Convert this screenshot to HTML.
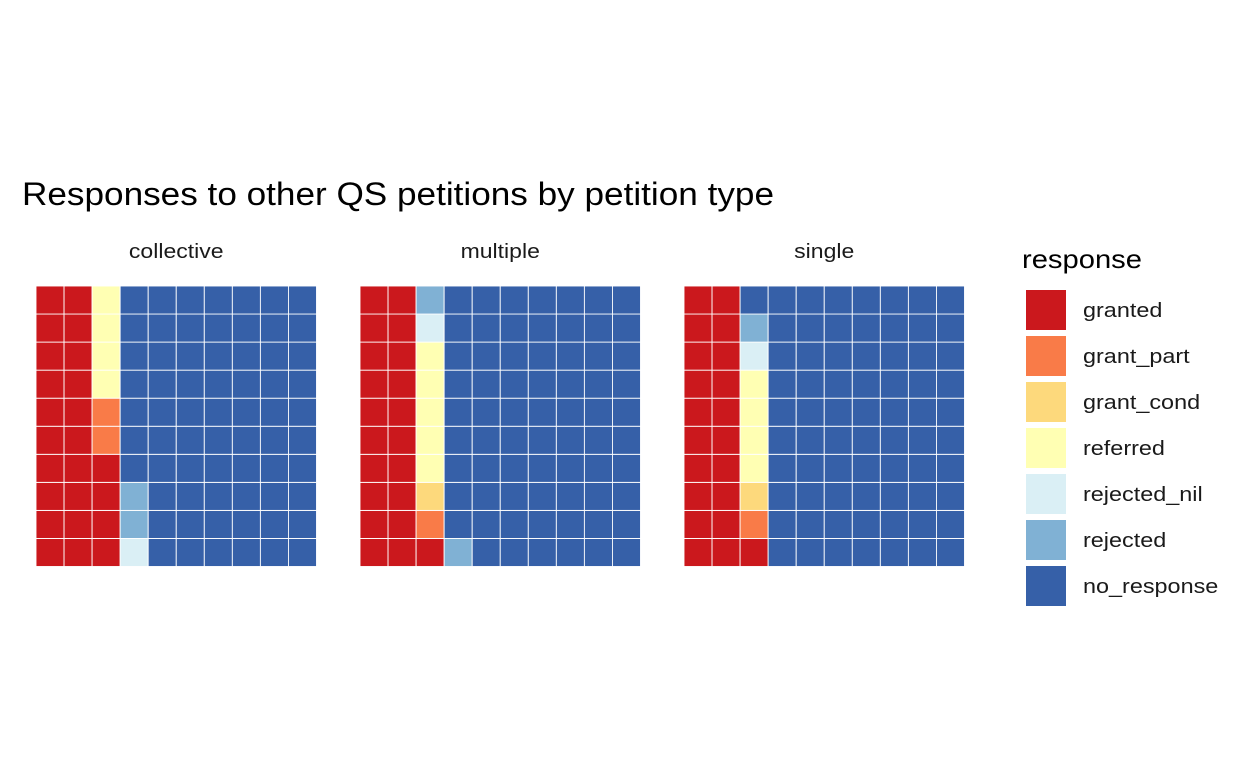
<!DOCTYPE html>
<html><head><meta charset="utf-8">
<style>
body{margin:0;background:#fff;font-family:"Liberation Sans",Arial,sans-serif;}
svg text{font-family:"Liberation Sans",Arial,sans-serif;}
</style></head>
<body>
<svg id="chart" width="1248" height="768">
<text x="22" y="205" font-size="32" textLength="752" lengthAdjust="spacingAndGlyphs" fill="#000">Responses to other QS petitions by petition type</text>
</svg>
<script>
const categories = ["granted","grant_part","grant_cond","referred","rejected_nil","rejected","no_response"];
const colors = ["#CB181D","#F97B48","#FDD97C","#FFFFB3","#DAEFF5","#80B1D4","#3660A8"];
const panels = ["collective","multiple","single"];
const collectiveValues = [24,2,0,4,1,2,67];
const multipleValues = [21,1,1,5,1,2,69];
const singleValues = [21,1,1,4,1,1,71];
const seriesValues = [collectiveValues, multipleValues, singleValues];

const svg = document.getElementById('chart');
const NS = 'http://www.w3.org/2000/svg';
const panelX = [36,360,684], top0 = 286, cell = 28.05, nrow = 10;
function mk(tag, attrs){const e=document.createElementNS(NS,tag);for(const k in attrs)e.setAttribute(k,attrs[k]);svg.appendChild(e);return e;}

panels.forEach((p,pi)=>{
  const x0 = panelX[pi];
  const lab = mk('text',{x:x0+cell*5,y:258,'font-size':20,'text-anchor':'middle',fill:'#1a1a1a'});
  lab.textContent = p;
  
  
  const w = lab.getComputedTextLength();
  lab.setAttribute('textLength', w*1.15);
  lab.setAttribute('lengthAdjust', 'spacingAndGlyphs');
  let idx = 0;
  seriesValues[pi].forEach((v,ci)=>{
    for(let k=0;k<v;k++){
      const col = Math.floor(idx/nrow), row = idx%nrow;
      const r = mk('rect',{x:x0+col*cell,y:top0+(nrow-1-row)*cell,width:cell,height:cell,fill:colors[ci],stroke:'#fff','stroke-width':0.9});
      
      
      idx++;
    }
  });
});

const lt = mk('text',{x:1022,y:268,'font-size':26,fill:'#000',textLength:120,lengthAdjust:'spacingAndGlyphs'});
lt.textContent='response';


categories.forEach((c,i)=>{
  const y = 290 + i*46;
  const r = mk('rect',{x:1026,y:y,width:40,height:40,fill:colors[i]});
  
  
  const t = mk('text',{x:1083,y:y+27,'font-size':20,fill:'#1a1a1a'});
  t.textContent = c;
  
  
  const w = t.getComputedTextLength();
  t.setAttribute('textLength', w*1.17);
  t.setAttribute('lengthAdjust', 'spacingAndGlyphs');
});
</script>
</body></html>
